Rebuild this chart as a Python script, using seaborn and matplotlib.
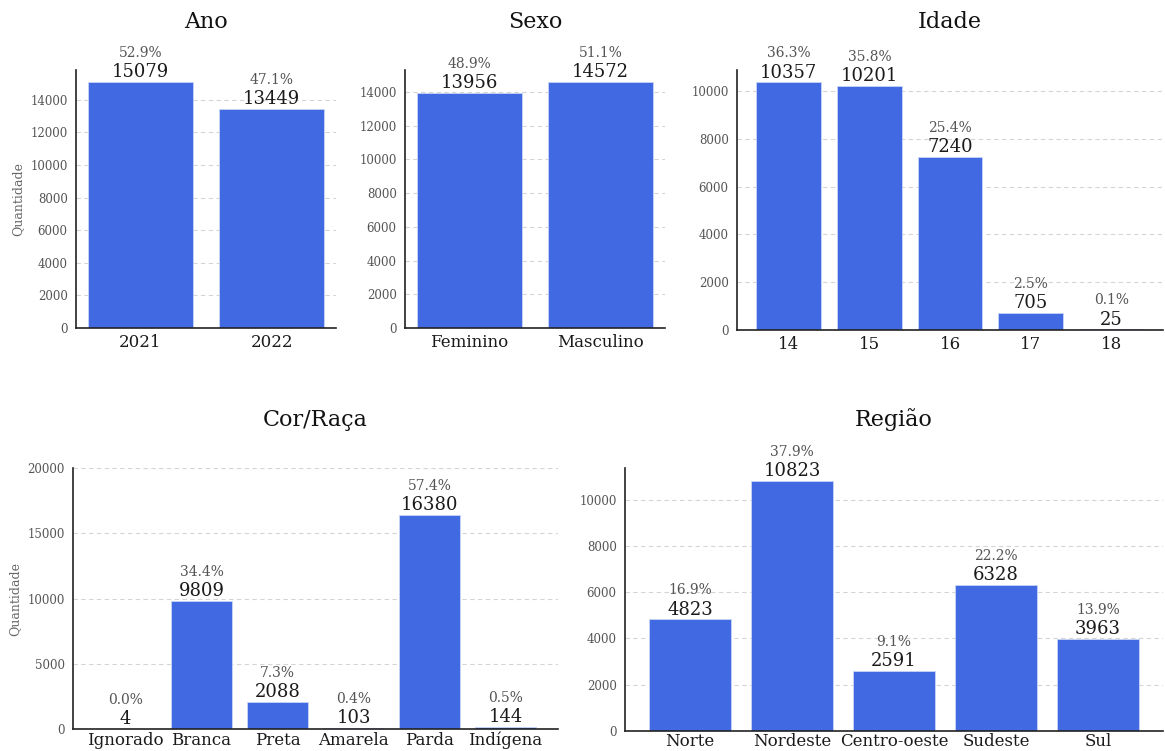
import matplotlib
matplotlib.use("Agg")
import matplotlib.pyplot as plt
import seaborn as sns
import pandas as pd

# ---- data ----
ano_labels = ["2021", "2022"]
ano_values = [15079, 13449]

sexo_labels = ["Feminino", "Masculino"]
sexo_values = [13956, 14572]

idade_labels = ["14", "15", "16", "17", "18"]
idade_values = [10357, 10201, 7240, 705, 25]

cor_labels = ["Ignorado", "Branca", "Preta", "Amarela", "Parda", "Indígena"]
cor_values = [4, 9809, 2088, 103, 16380, 144]

regiao_labels = ["Norte", "Nordeste", "Centro-oeste", "Sudeste", "Sul"]
regiao_values = [4823, 10823, 2591, 6328, 3963]

sns.set_style("white")
plt.rcParams["font.family"] = ["DejaVu Serif"]

W, H = 1165, 751
fig = plt.figure(figsize=(W / 100, H / 100), dpi=100)


def px_axes(x0, y_top, x1, y_bot):
    return fig.add_axes([x0 / W, (H - y_bot) / H, (x1 - x0) / W, (y_bot - y_top) / H])


def panel(ax, title, labels, values, ylabel=None, ylim=None, yticks=None, xpad=4):
    df = pd.DataFrame({"cat": labels, "val": values})
    sns.barplot(data=df, x="cat", y="val", ax=ax, color="royalblue",
                saturation=1, width=0.8, edgecolor="#c8d4f8", linewidth=0.6)
    n = len(labels)
    m = 0.05 * (n - 0.2)
    ax.set_xlim(-0.4 - m, n - 1 + 0.4 + m)
    if ylim is None:
        ylim = max(values) * 1.05
    ax.set_ylim(0, ylim)
    if yticks is not None:
        ax.set_yticks(yticks)
    total = sum(values)
    for i, v in enumerate(values):
        ax.annotate(f"{v}", (i, v), xytext=(0, 3.5), textcoords="offset points",
                    ha="center", va="baseline", fontsize=13, color="#1a1a1a")
        ax.annotate(f"{v / total * 100:.1f}%", (i, v), xytext=(0, 18),
                    textcoords="offset points", ha="center", va="baseline",
                    fontsize=10, color="#555555")
    ax.set_title(title, fontsize=16, pad=30, color="#111111")
    ax.set_xlabel("")
    ax.set_ylabel(ylabel if ylabel else "", fontsize=9, color="#666666")
    ax.yaxis.grid(True, linestyle=(0, (4, 3)), color="#d5d5d5", linewidth=0.8)
    ax.set_axisbelow(True)
    for s in ["top", "right"]:
        ax.spines[s].set_visible(False)
    for s in ["left", "bottom"]:
        ax.spines[s].set_color("#222222")
        ax.spines[s].set_linewidth(1.2)
    ax.tick_params(axis="y", length=0, labelsize=8.5, labelcolor="#555555", pad=6)
    ax.tick_params(axis="x", length=0, labelsize=12, labelcolor="#1a1a1a", pad=xpad)


ax1 = px_axes(76, 70, 336, 328)
panel(ax1, "Ano", ano_labels, ano_values, ylabel="Quantidade")

ax2 = px_axes(405, 70, 665, 328)
panel(ax2, "Sexo", sexo_labels, sexo_values)

ax3 = px_axes(737, 70, 1163, 330)
panel(ax3, "Idade", idade_labels, idade_values)

ax4 = px_axes(73, 468, 558, 729)
panel(ax4, "Cor/Raça", cor_labels, cor_values, ylabel="Quantidade",
      ylim=20000, yticks=[0, 5000, 10000, 15000, 20000], xpad=2)

ax5 = px_axes(625, 468, 1163, 731)
panel(ax5, "Região", regiao_labels, regiao_values, xpad=1.5)

fig.savefig("out.png", dpi=100)
